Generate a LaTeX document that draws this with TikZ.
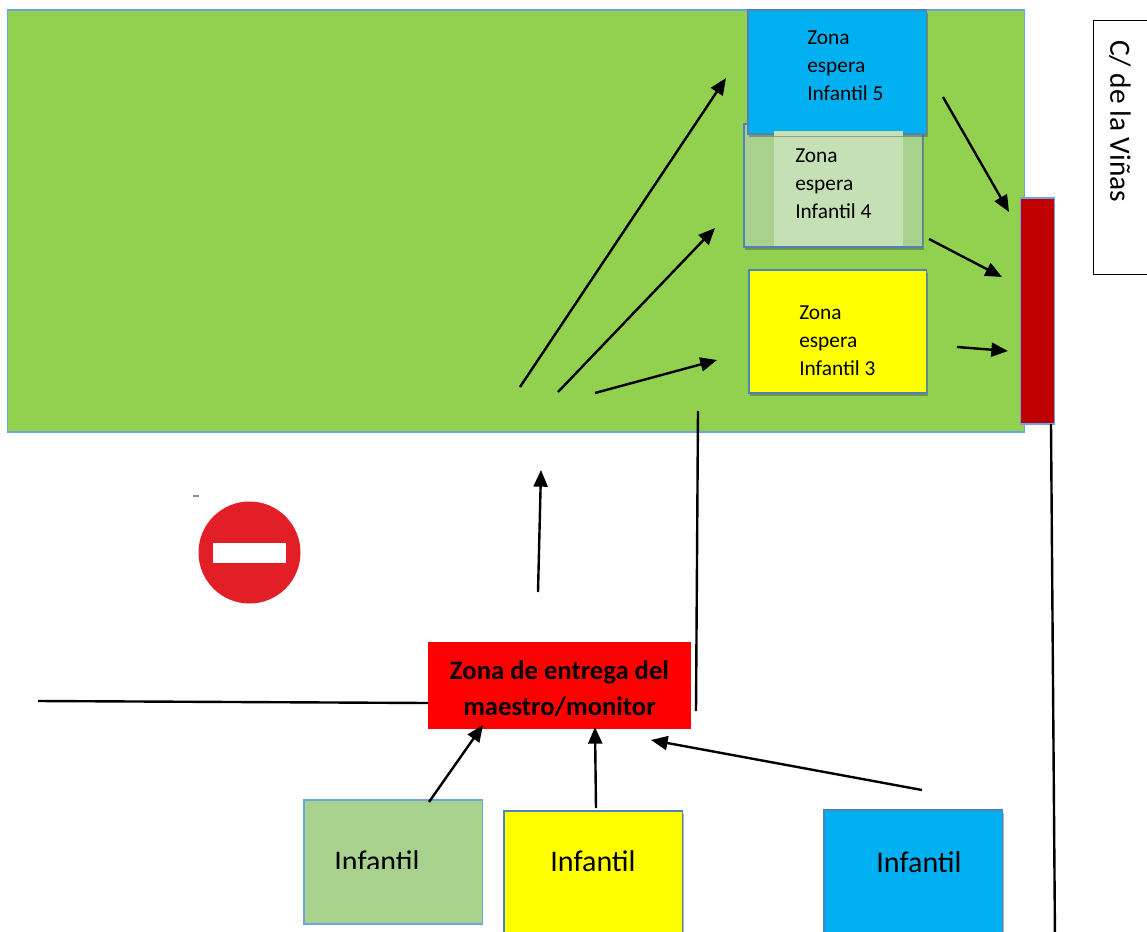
\documentclass[tikz,border=0pt]{standalone}
\usepackage{fontspec}
\setmainfont{Carlito}
\usetikzlibrary{arrows.meta,shadows,calc}
\definecolor{grassgreen}{RGB}{146,208,80}
\definecolor{edgeblue}{RGB}{108,164,222}
\definecolor{darkedge}{RGB}{79,129,189}
\definecolor{skyfill}{RGB}{0,176,240}
\definecolor{sagefill}{RGB}{169,209,142}
\definecolor{palefill}{RGB}{197,224,180}
\definecolor{barred}{RGB}{192,0,0}
\definecolor{signred}{RGB}{226,31,38}
\definecolor{pureyellow}{RGB}{255,255,0}
\definecolor{purered}{RGB}{255,0,0}
\newcommand{\pxbox}[6][]{\node[#2,anchor=north west,minimum width=#5*0.75pt-#3*0.75pt,minimum height=#6*0.75pt-#4*0.75pt,#1] at (#3,#4) {};}
\tikzset{
 x=0.75pt,y=-0.75pt,
 flat/.style={draw=edgeblue,line width=0.8pt,inner sep=0pt,outer sep=0pt},
 raised/.style={draw=darkedge,line width=1.1pt,inner sep=0pt,outer sep=0pt,
   drop shadow={shadow xshift=0.8pt,shadow yshift=-2pt,opacity=0.4,fill=black!75}},
 plain/.style={inner sep=0pt,outer sep=0pt},
 wire/.style={line width=1.8pt,black},
 arrowline/.style={wire,-{Triangle[length=12.5pt,width=10.5pt]}},
 waiting/.style={align=left,font=\fontsize{16}{21}\selectfont,anchor=north west,inner sep=0pt},
 kid/.style={font=\fontsize{22.5}{26}\selectfont,inner sep=0pt}
}
\begin{document}
\begin{tikzpicture}
\useasboundingbox (0,0) rectangle (1147,932);
\clip (0,0) rectangle (1147,932);
% playground
\pxbox[name=yard,fill=grassgreen]{flat}{7.5}{10}{1024.5}{432}
% street label
\pxbox[name=street,fill=white,draw=black,line width=0.7pt]{plain}{1093}{20}{1160}{274}
\node[rotate=-90,font=\fontsize{22}{26}\selectfont,inner sep=0pt,anchor=west] (streettext) at (1120,40) {C/ de la Viñas};
% waiting zones
\pxbox[name=z4,fill=sagefill]{raised}{744}{124}{922.5}{247}
\pxbox[name=z4inner,fill=palefill]{plain}{774}{131}{903}{246}
\pxbox[name=z5,fill=skyfill]{raised}{748}{10}{926.5}{134}
\pxbox[name=z4patch,fill=palefill]{plain}{774}{131}{903}{136}
\pxbox[name=z3,fill=pureyellow]{raised}{749}{270}{926.5}{393}
\node[waiting] (t5) at (807,31) {Zona\\espera\\Infantil 5};
\node[waiting] (t4) at (795,149) {Zona\\espera\\Infantil 4};
\node[waiting] (t3) at (799,306) {Zona\\espera\\Infantil 3};
% exit bar
\pxbox[name=bar,fill=barred]{flat}{1020.5}{198}{1054.5}{424}
% handover zone
\pxbox[name=handover,fill=purered]{plain}{428}{642}{691}{729}
\node[align=center,font=\bfseries\fontsize{20}{27}\selectfont,inner sep=0pt] (handtext) at (559.5,689) {Zona de entrega del\\maestro/monitor};
% groups
\pxbox[name=g3,fill=sagefill]{flat}{304}{800}{482.5}{924}
\pxbox[name=g4,fill=pureyellow]{raised}{504}{811}{682.5}{945}
\pxbox[name=g5,fill=skyfill]{raised}{824}{810}{1002.5}{945}
\begin{scope}
\clip (320,840) rectangle (440,868);
\node[kid] (k3) at (377,861) {Infantil};
\end{scope}
\node[kid] (k4) at (593,861) {Infantil};
\node[kid] (k5) at (919,862) {Infantil};
% no-entry sign
\fill[black!45] (193,495) rectangle (199,497);
\node[circle,fill=signred,minimum size=76.5pt,inner sep=0pt,outer sep=0pt] (sign) at (249.5,552.5) {};
\pxbox[name=signbar,fill=white]{plain}{213}{543}{286}{563}
% connector ends
\coordinate (a1s) at (520,387); \coordinate (a1e) at (726,78);
\coordinate (a2s) at (558,392); \coordinate (a2e) at (715,228);
\coordinate (a3s) at (595,393); \coordinate (a3e) at (717,360);
\coordinate (a4s) at (538,592); \coordinate (a4e) at (541,470);
\coordinate (l1s) at (698,411); \coordinate (l1e) at (696,711);
\coordinate (l2s) at (38,701);  \coordinate (l2e) at (428,703);
\coordinate (l3s) at (1051,424); \coordinate (l3e) at (1055,940);
\coordinate (b1s) at (429,802); \coordinate (b1e) at (483,725);
\coordinate (b2s) at (596,808); \coordinate (b2e) at (595,727);
\coordinate (b3s) at (922,790); \coordinate (b3e) at (651,740);
\coordinate (c1s) at (943,97);  \coordinate (c1e) at (1009,212);
\coordinate (c2s) at (929,239); \coordinate (c2e) at (1002,277);
\coordinate (c3s) at (957,347); \coordinate (c3e) at (1008,351);
\draw[arrowline] (a1s) -- (a1e);
\draw[arrowline] (a2s) -- (a2e);
\draw[arrowline] (a3s) -- (a3e);
\draw[arrowline] (a4s) -- (a4e);
\draw[wire] (l1s) -- (l1e);
\draw[wire] (l2s) -- (l2e);
\draw[wire] (l3s) -- (l3e);
\draw[arrowline] (b1s) -- (b1e);
\draw[arrowline] (b2s) -- (b2e);
\draw[arrowline] (b3s) -- (b3e);
\draw[arrowline] (c1s) -- (c1e);
\draw[arrowline] (c2s) -- (c2e);
\draw[arrowline] (c3s) -- (c3e);
\end{tikzpicture}
\end{document}
